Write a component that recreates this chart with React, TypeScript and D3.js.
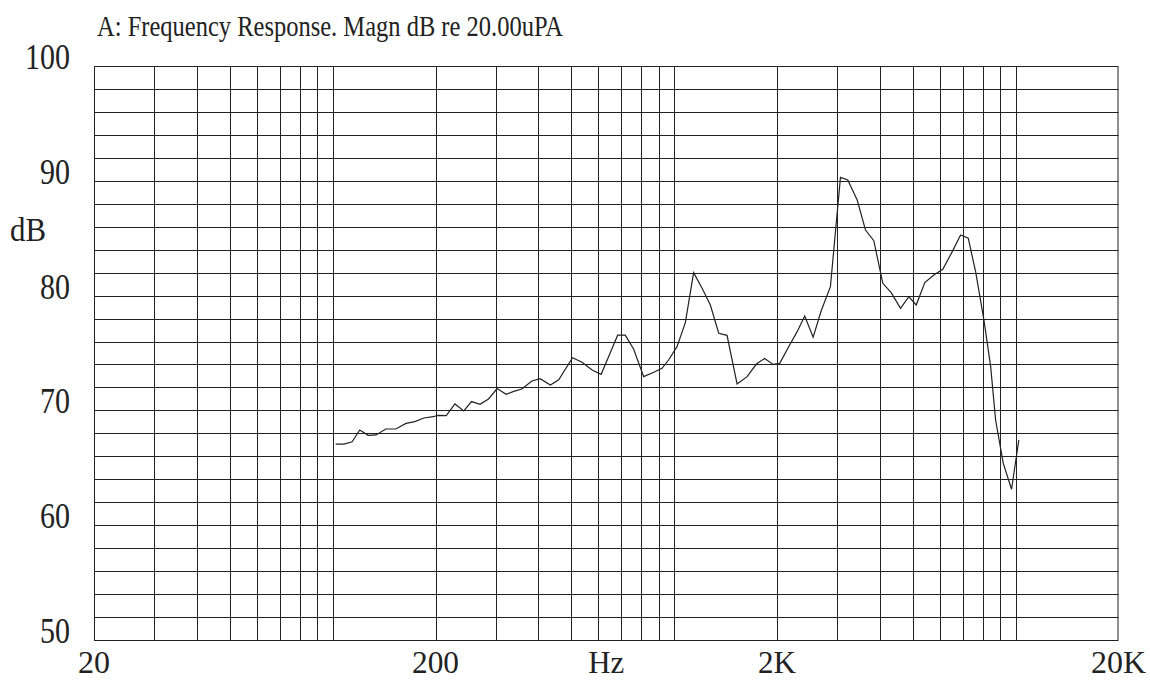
import React from "react";
import * as d3 from "d3";

const freqs = [102,108,114,120,127,134,143,153,164,174,185,197,203,215,228,242,255,270,286,303,322,339,358,383,405,434,459,504,537,575,611,643,683,719,761,814,871,921,963,1019,1078,1140,1207,1276,1350,1428,1528,1635,1741,1841,1948,2037,2164,2291,2411,2552,2693,2867,3068,3223,3434,3633,3842,4082,4319,4600,4864,5113,5418,5758,6117,6519,6897,7263,7631,8073,8447,8733,9196,9724,10213];
const magn = [67.07,67.07,67.27,68.29,67.83,67.86,68.38,68.38,68.87,69.02,69.34,69.45,69.57,69.54,70.56,69.95,70.77,70.53,71.0,71.9,71.4,71.66,71.86,72.56,72.76,72.21,72.67,74.59,74.19,73.52,73.14,74.69,76.55,76.55,75.33,72.94,73.32,73.67,74.39,75.55,77.65,82.0,80.64,79.18,76.72,76.54,72.30,72.94,74.04,74.53,74.01,74.10,75.55,76.86,78.22,76.37,78.66,80.78,90.30,90.07,88.33,85.71,84.78,81.07,80.26,78.89,79.91,79.18,81.13,81.80,82.29,83.83,85.28,85.0,82.08,77.87,73.81,69.16,65.39,63.13,67.42];

const yTicks = [50, 60, 70, 80, 90, 100];
const xLabels = [
  { f: 20, text: "20", w: 32 },
  { f: 200, text: "200", w: 47 },
  { f: 632, text: "Hz", w: 36 },
  { f: 2000, text: "2K", w: 38 },
  { f: 20000, text: "20K", w: 55 },
];
const title = "A: Frequency Response. Magn dB re 20.00uPA";

export default function App() {
  const W = 1150, H = 680;
  const left = 94, right = 1118.5, top = 66, bottom = 640;
  const x = d3.scaleLog().domain([20, 20000]).range([left, right]);
  const y = d3.scaleLinear().domain([50, 100]).range([bottom, top]);

  const vLines: number[] = [];
  for (let dec = 10; dec <= 10000; dec *= 10) {
    for (let m = 1; m <= 9; m++) {
      const f = dec * m;
      if (f > 20 && f <= 10000) vLines.push(f);
    }
  }
  const hLines = d3.range(52, 100, 2);
  const line = d3.line<number>().x((_, i) => x(freqs[i])).y((d) => y(d));
  const font = "'Liberation Serif', 'DejaVu Serif', serif";
  const stroke = "#222";

  return (
    <svg width={W} height={H} style={{ position: "absolute", left: 0, top: 0, background: "#fff" }}>
      <rect x={0} y={0} width={W} height={H} fill="#fff" />
      <text x={97} y={36} fontFamily={font} fontSize={30} fill="#222" textLength={466} lengthAdjust="spacingAndGlyphs">{title}</text>
      {hLines.map((v) => (
        <line key={"h" + v} x1={left} x2={right} y1={Math.round(y(v)) + 0.5} y2={Math.round(y(v)) + 0.5} stroke={stroke} strokeWidth={1} />
      ))}
      {vLines.map((f) => (
        <line key={"v" + f} x1={Math.round(x(f)) + 0.5} x2={Math.round(x(f)) + 0.5} y1={top} y2={bottom} stroke={stroke} strokeWidth={1} />
      ))}
      <rect x={left + 0.5} y={top + 0.5} width={right - left - 1} height={bottom - top} fill="none" stroke={stroke} strokeWidth={1} />
      {yTicks.map((v) => (
        <text key={"yt" + v} x={70} y={y(v) + 3} textAnchor="end" fontFamily={font} fontSize={35} fill="#222"
          textLength={v === 100 ? 45 : 30} lengthAdjust="spacingAndGlyphs">{v}</text>
      ))}
      <text x={10} y={241} fontFamily={font} fontSize={33} fill="#222" textLength={36} lengthAdjust="spacingAndGlyphs">dB</text>
      {xLabels.map((l) => (
        <text key={"xl" + l.text} x={x(l.f) - l.w / 2} y={673} fontFamily={font} fontSize={32} fill="#222"
          textLength={l.w} lengthAdjust="spacingAndGlyphs">{l.text}</text>
      ))}
      <path d={line(magn) || ""} fill="none" stroke="#222" strokeWidth={1.2} />
    </svg>
  );
}
